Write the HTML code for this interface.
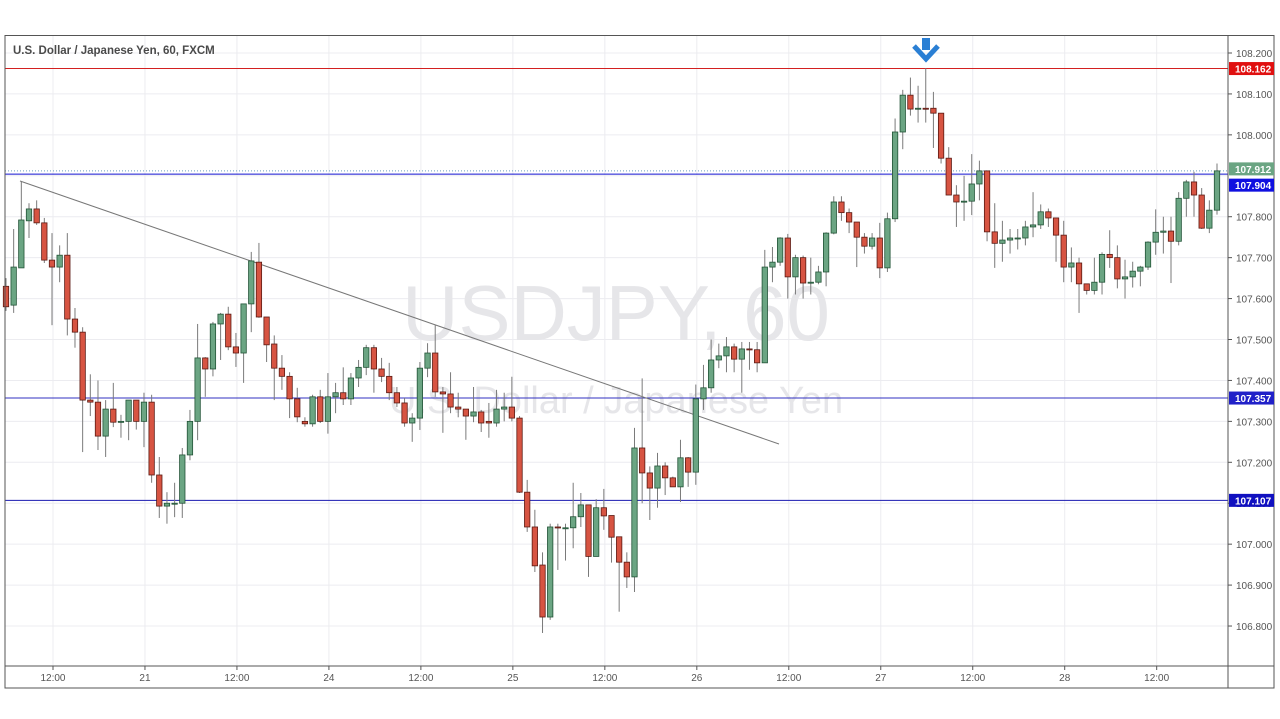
<!DOCTYPE html>
<html><head><meta charset="utf-8"><style>
html,body{margin:0;padding:0;background:#fff;}
svg{display:block;font-family:"Liberation Sans",sans-serif;}
</style></head><body>
<svg id="chart" width="1280" height="719" viewBox="0 0 1280 719" xmlns="http://www.w3.org/2000/svg">
<rect x="0" y="0" width="1280" height="719" fill="#fff"/>
<g id="grid"></g>
<g id="watermark">
<text x="616" y="340" font-size="78" fill="#e6e6e9" text-anchor="middle">USDJPY, 60</text>
<text x="616" y="413" font-size="38" fill="#e6e6e9" text-anchor="middle">U.S. Dollar / Japanese Yen</text>
</g>
<g id="levels"></g>
<line x1="20" y1="181" x2="779" y2="444" stroke="#777" stroke-width="1"/>
<g id="candles"></g>
<g id="axis"></g>
<g>
<rect x="922" y="38" width="8" height="12" fill="#2a7fd4"/>
<path d="M914 46 L926 59 L938 46" fill="none" stroke="#2a7fd4" stroke-width="5" stroke-linejoin="miter"/>
</g>
<text x="13" y="54" font-size="11.5" fill="#4a4a4a" font-weight="bold">U.S. Dollar / Japanese Yen, 60, FXCM</text>
</svg>
<script>
const opens=[107.63,107.584,107.675,107.79,107.819,107.785,107.694,107.677,107.706,107.55,107.518,107.352,107.347,107.264,107.33,107.298,107.30,107.352,107.30,107.347,107.169,107.093,107.10,107.10,107.218,107.30,107.455,107.428,107.538,107.562,107.482,107.467,107.587,107.689,
107.555,107.489,107.43,107.41,107.355,107.30,107.294,107.36,107.30,107.36,107.37,107.355,107.406,107.432,107.48,107.428,107.41,107.37,107.345,107.296,107.308,107.43,107.467,107.372,107.367,107.335,107.33,107.313,107.323,107.30,107.296,107.33,107.335,
107.308,107.127,107.042,106.949,106.822,107.042,107.04,107.04,107.067,107.096,106.97,107.089,107.07,107.018,106.956,106.92,107.235,107.174,107.137,107.191,107.162,107.14,107.211,107.176,
107.355,107.382,107.45,107.46,107.482,107.452,107.477,107.475,107.443,107.677,107.689,107.748,107.653,107.70,107.638,107.64,107.665,107.76,107.836,107.81,107.787,107.75,107.728,107.748,107.675,107.795,108.007,108.097,108.063,108.065,108.065,108.053,107.943,107.853,107.836,
107.838,107.88,107.912,107.763,107.735,107.743,107.748,107.748,107.775,107.78,107.812,107.797,107.755,107.677,107.687,107.636,107.62,107.64,107.708,107.70,107.648,107.653,107.667,107.677,107.738,107.762,107.765,107.74,107.845,107.885,107.853,107.772,107.816];
const highs=[107.65,107.77,107.885,107.833,107.84,107.797,107.76,107.73,107.76,107.577,107.53,107.415,107.40,107.352,107.394,107.316,107.352,107.352,107.37,107.365,107.213,107.127,107.15,107.235,107.328,107.538,107.457,107.543,107.565,107.58,107.516,107.587,107.714,107.736,
107.555,107.51,107.462,107.42,107.382,107.31,107.365,107.377,107.418,107.394,107.432,107.418,107.45,107.487,107.487,107.455,107.443,107.384,107.357,107.32,107.445,107.491,107.535,107.384,107.42,107.37,107.33,107.384,107.328,107.345,107.377,107.37,107.409,
107.313,107.157,107.084,106.98,107.05,107.05,107.05,107.15,107.125,107.096,107.11,107.135,107.07,107.018,106.98,107.284,107.405,107.19,107.223,107.20,107.165,107.255,107.213,107.39,
107.438,107.50,107.49,107.506,107.49,107.494,107.494,107.494,107.719,107.726,107.75,107.758,107.707,107.705,107.70,107.68,107.762,107.85,107.85,107.82,107.787,107.76,107.76,107.785,107.81,108.04,108.11,108.14,108.12,108.163,108.105,108.053,107.97,107.877,107.90,
107.953,107.937,107.912,107.833,107.79,107.77,107.77,107.79,107.86,107.83,107.82,107.797,107.79,107.725,107.70,107.636,107.70,107.713,107.767,107.73,107.695,107.69,107.68,107.74,107.818,107.80,107.80,107.86,107.89,107.91,107.87,107.84,107.93];
const lows=[107.57,107.565,107.675,107.748,107.78,107.687,107.535,107.64,107.51,107.48,107.225,107.313,107.23,107.213,107.286,107.26,107.254,107.28,107.237,107.15,107.064,107.05,107.066,107.064,107.205,107.254,107.36,107.41,107.45,107.474,107.433,107.394,107.518,107.553,
107.445,107.352,107.377,107.308,107.298,107.287,107.287,107.296,107.27,107.32,107.34,107.34,107.384,107.413,107.37,107.396,107.352,107.335,107.287,107.25,107.279,107.408,107.36,107.272,107.32,107.31,107.255,107.298,107.274,107.26,107.287,107.30,107.30,
107.125,107.03,106.932,106.783,106.815,106.937,106.96,106.99,107.042,106.92,106.97,107.035,106.955,106.835,106.893,106.883,107.10,107.059,107.089,107.12,107.14,107.103,107.14,107.145,
107.328,107.37,107.43,107.42,107.42,107.37,107.426,107.42,107.443,107.64,107.68,107.60,107.61,107.60,107.61,107.635,107.63,107.757,107.79,107.76,107.677,107.71,107.72,107.65,107.665,107.787,107.965,108.047,108.03,108.03,107.968,107.93,107.853,107.775,107.79,
107.804,107.84,107.74,107.675,107.69,107.71,107.72,107.73,107.75,107.77,107.775,107.69,107.64,107.64,107.565,107.61,107.61,107.61,107.675,107.625,107.60,107.627,107.63,107.67,107.707,107.71,107.638,107.73,107.80,107.80,107.77,107.76,107.805];
const closes=[107.58,107.677,107.792,107.819,107.785,107.694,107.677,107.706,107.55,107.518,107.352,107.347,107.264,107.33,107.298,107.30,107.352,107.30,107.347,107.169,107.093,107.10,107.10,107.218,107.30,107.455,107.428,107.538,107.562,107.482,107.467,107.587,107.692,107.555,
107.487,107.43,107.41,107.355,107.311,107.294,107.36,107.30,107.36,107.37,107.355,107.406,107.432,107.48,107.428,107.41,107.37,107.345,107.296,107.308,107.43,107.467,107.372,107.367,107.335,107.33,107.313,107.323,107.296,107.296,107.33,107.335,107.308,
107.127,107.042,106.947,106.822,107.042,107.04,107.04,107.067,107.096,106.97,107.089,107.069,107.017,106.956,106.92,107.235,107.174,107.137,107.191,107.162,107.14,107.211,107.176,107.355,
107.382,107.45,107.46,107.482,107.452,107.477,107.475,107.443,107.677,107.689,107.748,107.653,107.70,107.638,107.64,107.665,107.76,107.836,107.81,107.787,107.75,107.728,107.748,107.675,107.795,108.007,108.097,108.063,108.065,108.063,108.053,107.943,107.853,107.836,107.838,
107.88,107.912,107.763,107.735,107.743,107.748,107.748,107.775,107.78,107.812,107.797,107.755,107.677,107.687,107.636,107.62,107.64,107.708,107.70,107.648,107.653,107.667,107.677,107.738,107.762,107.765,107.74,107.845,107.885,107.853,107.772,107.816,107.912];
const priceTicks=[108.2,108.1,108.0,107.9,107.8,107.7,107.6,107.5,107.4,107.3,107.2,107.1,107.0,106.9,106.8];
const timeLabels=["12:00","21","12:00","24","12:00","25","12:00","26","12:00","27","12:00","28","12:00"];
const timeIndex=[6,18,30,42,54,66,78,90,102,114,126,138,150];
const levelPrices=[108.162,107.904,107.357,107.107];
const levelColors=["#d32020","#1010d0","#3030c0","#1a1ab0"];
const lastPrice=107.912;

const NS="http://www.w3.org/2000/svg";
const X0=6, STEP=(1217-6)/(opens.length-1);
function xs(i){return X0+i*STEP;}
function ys(p){return 53+(108.2-p)*409.3;}
function mk(tag,attrs,parent){const e=document.createElementNS(NS,tag);for(const k in attrs)e.setAttribute(k,attrs[k]);parent.appendChild(e);return e;}
const grid=document.getElementById('grid'),axis=document.getElementById('axis'),cg=document.getElementById('candles'),lv=document.getElementById('levels');
priceTicks.forEach(p=>{const l=mk('line',{x1:5,x2:1228,y1:ys(p),y2:ys(p),stroke:'#ececf0','stroke-width':1},grid);

});
timeIndex.forEach(i=>{const l=mk('line',{x1:xs(i)+1,x2:xs(i)+1,y1:36,y2:666,stroke:'#ececf0','stroke-width':1},grid);

});
levelPrices.forEach((p,k)=>{const l=mk('line',{x1:5,x2:1228,y1:ys(p),y2:ys(p),stroke:levelColors[k],'stroke-width':1},lv);

});
const dl=mk('line',{x1:5,x2:1228,y1:ys(lastPrice),y2:ys(lastPrice),stroke:'#6b9fbf','stroke-width':1,'stroke-dasharray':'1,2'},lv);


const bw=5.4;
for(let i=0;i<opens.length;i++){
 const o=opens[i],h=highs[i],l=lows[i],c=closes[i],up=c>=o,x=xs(i);
 const g=mk('g',{},cg);
 
 
 mk('line',{x1:x,x2:x,y1:ys(h),y2:ys(l),stroke:'#7a7a7a','stroke-width':1},g);
 const top=ys(Math.max(o,c)),bot=ys(Math.min(o,c));
 mk('rect',{x:x-bw/2,y:top,width:bw,height:Math.max(1,bot-top),fill:up?'#6ba583':'#d75442',stroke:up?'#225437':'#5b1a13','stroke-width':0.8},g);
}
mk('rect',{x:5,y:35.5,width:1269,height:652.5,fill:'none',stroke:'#555','stroke-width':1},axis);
mk('line',{x1:1228,x2:1228,y1:36,y2:688,stroke:'#555','stroke-width':1},axis);
mk('line',{x1:5,x2:1274,y1:666,y2:666,stroke:'#555','stroke-width':1},axis);
priceTicks.forEach(p=>{
 if(Math.abs(p-lastPrice)<0.03) return;
 mk('line',{x1:1228,x2:1232,y1:ys(p),y2:ys(p),stroke:'#555'},axis);
 const t=mk('text',{x:1236,y:ys(p)+4,'font-size':10,fill:'#555'},axis);t.textContent=p.toFixed(3);
 
 
});
timeIndex.forEach((i,k)=>{
 mk('line',{x1:xs(i)+1,x2:xs(i)+1,y1:666,y2:670,stroke:'#555'},axis);
 const t=mk('text',{x:xs(i)+1,y:681,'font-size':10,fill:'#555','text-anchor':'middle'},axis);t.textContent=timeLabels[k];
 
 
});
function badge(p,bg,dy){const y=ys(p)+dy;
 const g=mk('g',{},axis);
 
 
 mk('rect',{x:1229,y:y-6.5,width:45,height:13,fill:bg},g);
 const t=mk('text',{x:1235,y:y+4,'font-size':10,fill:'#fff','font-weight':'bold'},g);t.textContent=p.toFixed(3);}
badge(levelPrices[0],'#e01010',0);
badge(lastPrice,'#6ba583',-2);
badge(levelPrices[1],'#1010e0',11);
badge(levelPrices[2],'#2020c8',0);
badge(levelPrices[3],'#1010c0',0);
</script>
</body></html>
